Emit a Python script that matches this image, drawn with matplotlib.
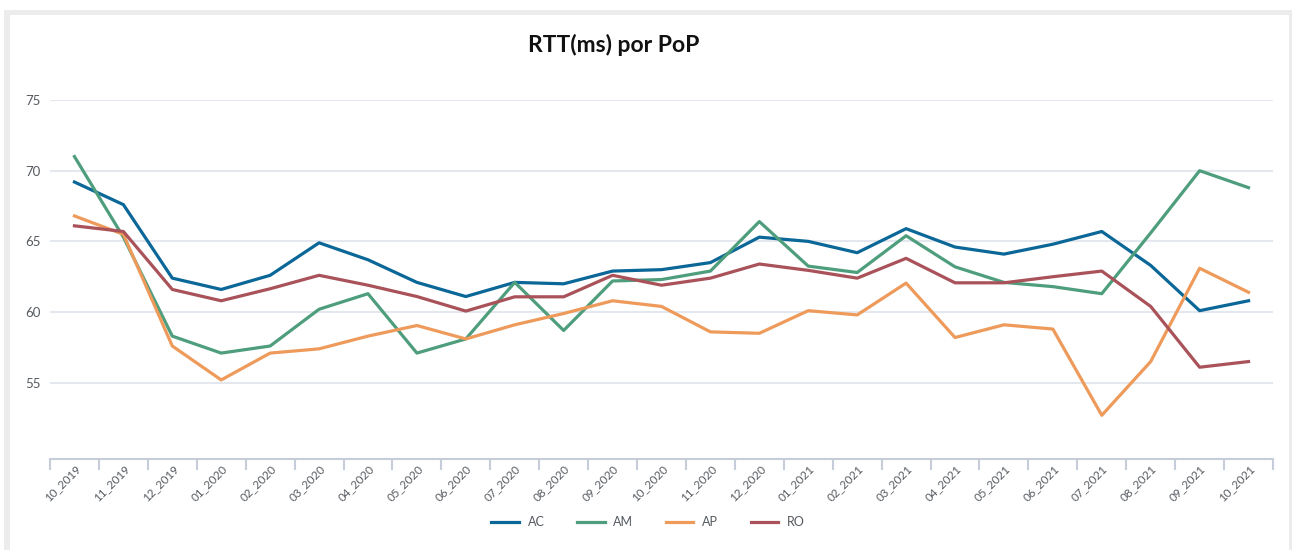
import matplotlib.pyplot as plt
from matplotlib.patches import Rectangle

plt.rcParams['font.family'] = ['Lato', 'DejaVu Sans']

# Meses (eixo x)
months = ["10_2019", "11_2019", "12_2019", "01_2020", "02_2020", "03_2020", "04_2020",
          "05_2020", "06_2020", "07_2020", "08_2020", "09_2020", "10_2020", "11_2020",
          "12_2020", "01_2021", "02_2021", "03_2021", "04_2021", "05_2021", "06_2021",
          "07_2021", "08_2021", "09_2021", "10_2021"]

# RTT (ms) por PoP
ac = [69.2, 67.6, 62.4, 61.6, 62.6, 64.9, 63.7, 62.1, 61.1, 62.1, 62.0, 62.9, 63.0,
      63.5, 65.3, 65.0, 64.2, 65.9, 64.6, 64.1, 64.8, 65.7, 63.3, 60.1, 60.8]
am = [71.0, 65.3, 58.3, 57.1, 57.6, 60.2, 61.3, 57.1, 58.1, 62.1, 58.7, 62.2, 62.3,
      62.9, 66.4, 63.25, 62.8, 65.4, 63.2, 62.1, 61.8, 61.3, 65.6, 70.0, 68.8]
ap = [66.8, 65.5, 57.6, 55.2, 57.1, 57.4, 58.3, 59.05, 58.1, 59.1, 59.9, 60.8, 60.4,
      58.6, 58.5, 60.1, 59.8, 62.05, 58.2, 59.1, 58.8, 52.7, 56.5, 63.1, 61.4]
ro = [66.1, 65.7, 61.6, 60.8, 61.65, 62.6, 61.9, 61.1, 60.07, 61.08, 61.08, 62.6, 61.9,
      62.4, 63.4, 62.95, 62.4, 63.8, 62.07, 62.07, 62.5, 62.9, 60.4, 56.1, 56.5]

series = [("AC", ac, "#0a6797"), ("AM", am, "#4e9e7d"),
          ("AP", ap, "#ee9a5b"), ("RO", ro, "#a9525a")]

W, H = 1292, 550
fig = plt.figure(figsize=(W / 100, H / 100), dpi=100)

# moldura cinza do painel
fig.patches.append(Rectangle((4 / W, -0.1), (1294 - 4) / W, 1.1 - 10 / H,
                             transform=fig.transFigure, facecolor="#ececec",
                             edgecolor="none", zorder=-2))
fig.patches.append(Rectangle((10 / W, -0.1), (1289 - 10) / W, 1.1 - 15 / H,
                             transform=fig.transFigure, facecolor="white",
                             edgecolor="none", zorder=-1))

ax = fig.add_axes([50 / W, 1 - 458.7 / H, (1273 - 50) / W, (458.7 - 100) / H])
ax.set_facecolor("none")

x = list(range(len(months)))
for name, vals, color in series:
    ax.plot(x, vals, color=color, lw=2.3, label=name)

ax.set_xlim(-0.5, len(months) - 0.5)
ax.set_ylim(49.63, 75)
ax.set_yticks([55, 60, 65, 70, 75])
ax.grid(axis="y", color="#e4e8ee", lw=1.5)
ax.set_axisbelow(True)

for s in ["top", "right", "left"]:
    ax.spines[s].set_visible(False)
ax.spines["bottom"].set_color("#c5cdd8")
ax.spines["bottom"].set_linewidth(1.5)

# ticks do eixo x entre categorias, rótulos no centro
ax.set_xticks([i - 0.5 for i in range(len(months) + 1)])
ax.set_xticklabels([])
ax.set_xticks(x, minor=True)
ax.set_xticklabels(months, minor=True, rotation=45, ha="right", rotation_mode="anchor",
                   fontsize=8.4, color="#555a60")
ax.tick_params(axis="x", which="major", length=8, width=1.5, color="#c5cdd8")
ax.tick_params(axis="x", which="minor", length=0, pad=3)
ax.tick_params(axis="y", length=0, labelsize=9.5, labelcolor="#555a60", pad=7)

fig.text(614 / W, 1 - 45 / H, "RTT(ms) por PoP", ha="center", va="center",
         fontsize=16.5, fontweight="bold", color="#111111")

fig.legend(loc="center", bbox_to_anchor=(648 / W, 1 - 522 / H), ncol=4, frameon=False,
           fontsize=9, handlelength=2.2, columnspacing=2.6, handletextpad=0.7,
           labelcolor="#555a60")

fig.savefig("out.png", dpi=100)
